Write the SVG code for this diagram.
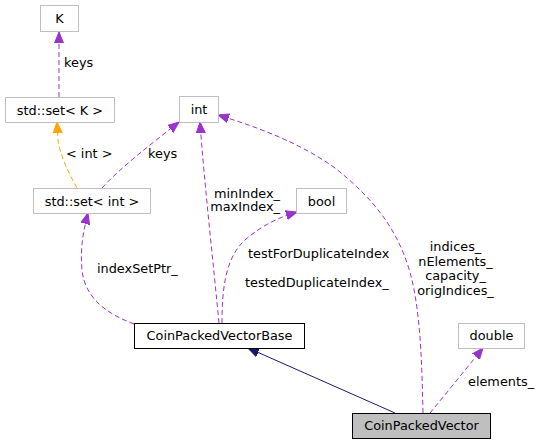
<svg xmlns="http://www.w3.org/2000/svg" width="543" height="445" viewBox="0 0 543 445">
<style>
text{font-family:"DejaVu Sans","Liberation Sans",sans-serif;font-size:12.85px;fill:#000}
.n text{text-anchor:middle}
.g{fill:#fff;stroke:#bfbfbf;stroke-width:1}
.b{fill:#fff;stroke:#000;stroke-width:1}
.cur{fill:#bfbfbf;stroke:#000;stroke-width:1}
.e{fill:none;stroke:#9a32cd;stroke-dasharray:5,3;stroke-width:1}
.o{fill:none;stroke:#ffa500;stroke-dasharray:5,3;stroke-width:1}
.s{fill:none;stroke:#191970;stroke-width:1}
.lbl{text-anchor:middle}
.r{text-anchor:end}
</style>
<defs>
<marker id="ap" markerUnits="userSpaceOnUse" markerWidth="12" markerHeight="10" refX="11" refY="5" orient="auto"><path d="M0,0.5 L11,5 L0,9.5 z" fill="#9a32cd" stroke="#9a32cd"/></marker>
<marker id="ao" markerUnits="userSpaceOnUse" markerWidth="12" markerHeight="10" refX="11" refY="5" orient="auto"><path d="M0,0.5 L11,5 L0,9.5 z" fill="#ffa500" stroke="#ffa500"/></marker>
<marker id="an" markerUnits="userSpaceOnUse" markerWidth="12" markerHeight="10" refX="11" refY="5" orient="auto"><path d="M0,0.5 L11,5 L0,9.5 z" fill="#191970" stroke="#191970"/></marker>
</defs>
<rect width="543" height="445" fill="#fff"/>
<g id="edges">
<path class="e" d="M59,97 L59,32" marker-end="url(#ap)"/>
<path class="o" d="M77,188 C68,172 60,155 58,140 L57,122" marker-end="url(#ao)"/>
<path class="e" d="M102,188 C120,168 150,145 179,122" marker-end="url(#ap)"/>
<path class="e" d="M219,323 C214,270 204,180 200,122" marker-end="url(#ap)"/>
<path class="e" d="M222,323 C222,290 225,258 245,240 C262,225 280,217 297,212" marker-end="url(#ap)"/>
<path class="e" d="M134,324 C110,315 85,300 82,270 C80,250 83,232 88,213" marker-end="url(#ap)"/>
<path class="e" d="M423,413 C422,370 421,330 415,295 C405,235 375,200 335,168 C300,143 260,128 218,115" marker-end="url(#ap)"/>
<path class="e" d="M430,413 C445,395 465,370 483,348" marker-end="url(#ap)"/>
<path class="s" d="M395,413 L248,348" marker-end="url(#an)"/>
<text x="64" y="66.5">keys</text>
<text x="66" y="158">&lt; int &gt;</text>
<text x="148" y="158">keys</text>
<text class="r" x="280" y="197.5">minIndex_</text>
<text class="r" x="280" y="211">maxIndex_</text>
<text x="248" y="257.5">testForDuplicateIndex</text>
<text x="245" y="286.5">testedDuplicateIndex_</text>
<text x="97" y="273">indexSetPtr_</text>
<text class="lbl" x="455.5" y="251.3">indices_</text>
<text class="lbl" x="455.5" y="265.7">nElements_</text>
<text class="lbl" x="455.5" y="280.1">capacity_</text>
<text class="lbl" x="455.5" y="294.5">origIndices_</text>
<text x="468" y="385.5">elements_</text>
</g>
<g id="K" class="n"><rect class="g" x="40.5" y="5.5" width="38" height="26"/><text x="59.5" y="23">K</text></g>
<g id="setK" class="n"><rect class="g" x="5.5" y="97.5" width="109" height="25"/><text x="60" y="114.5">std::set&lt; K &gt;</text></g>
<g id="int" class="n"><rect class="g" x="179.5" y="96.5" width="39" height="26"/><text x="199" y="114">int</text></g>
<g id="setInt" class="n"><rect class="g" x="33.5" y="188.5" width="117" height="25"/><text x="92" y="205.5">std::set&lt; int &gt;</text></g>
<g id="bool" class="n"><rect class="g" x="296.5" y="188.5" width="50" height="25"/><text x="321.5" y="205.5">bool</text></g>
<g id="CoinPackedVectorBase" class="n"><rect class="b" x="134.5" y="323.5" width="170" height="25"/><text x="219.5" y="340">CoinPackedVectorBase</text></g>
<g id="double" class="n"><rect class="g" x="458.5" y="323.5" width="66" height="25"/><text x="491.5" y="340">double</text></g>
<g id="CoinPackedVector" class="n"><rect class="cur" x="352.5" y="413.5" width="138" height="25"/><text x="421.5" y="430">CoinPackedVector</text></g>
</svg>
